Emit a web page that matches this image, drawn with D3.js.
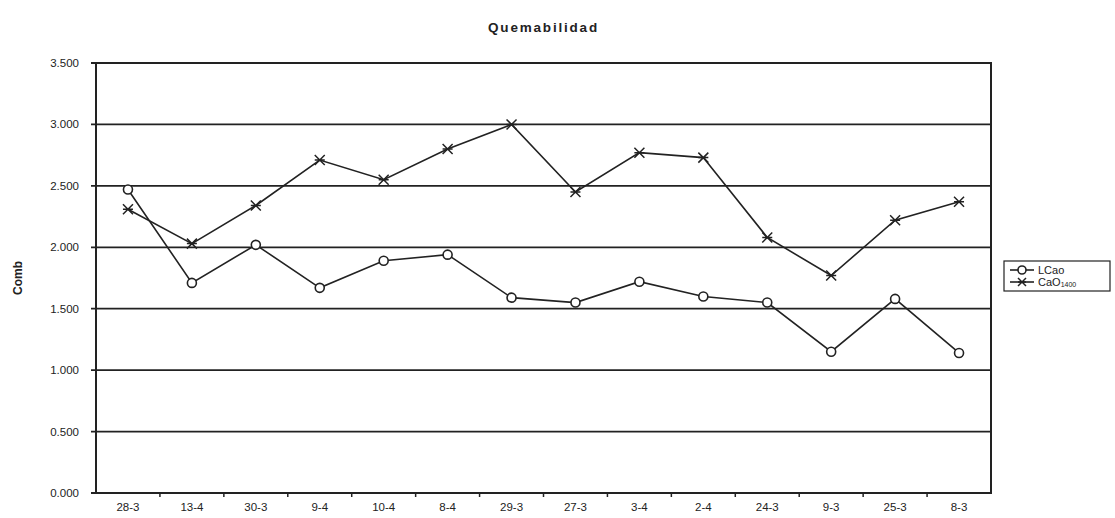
<!DOCTYPE html>
<html>
<head>
<meta charset="utf-8">
<script src="https://cdn.jsdelivr.net/npm/d3@7"></script>
<style>
  body { margin: 0; background: #fff; }
  text { font-family: "Liberation Sans", Arial, sans-serif; fill: #222; }
</style>
</head>
<body>
<div id="chart"></div>
<script>
// data
var categories = ["28-3", "13-4", "30-3", "9-4", "10-4", "8-4", "29-3", "27-3", "3-4", "2-4", "24-3", "9-3", "25-3", "8-3"];
var lcao = [2.47, 1.71, 2.02, 1.67, 1.89, 1.94, 1.59, 1.55, 1.72, 1.60, 1.55, 1.15, 1.58, 1.14];
var cao1400 = [2.31, 2.03, 2.34, 2.71, 2.55, 2.80, 3.00, 2.45, 2.77, 2.73, 2.08, 1.77, 2.22, 2.37];
var yTicks = [0, 0.5, 1, 1.5, 2, 2.5, 3, 3.5];

var width = 1115, height = 518;
var margin = {top: 63, right: 124, bottom: 25, left: 96};
var w = width - margin.left - margin.right;
var h = height - margin.top - margin.bottom;

var svg = d3.select("#chart").append("svg")
  .attr("width", width)
  .attr("height", height);

var g = svg.append("g")
  .attr("transform", "translate(" + margin.left + "," + margin.top + ")");

var x = d3.scaleBand().domain(categories).range([0, w]);
var y = d3.scaleLinear().domain([0, 3.5]).range([h, 0]);

// horizontal gridlines
g.append("g").selectAll("line")
  .data(yTicks)
  .enter().append("line")
  .attr("x1", -5).attr("x2", w)
  .attr("y1", d => y(d)).attr("y2", d => y(d))
  .attr("stroke", "#222")
  .attr("stroke-width", 1.8);

// y tick labels
g.append("g").selectAll("text")
  .data(yTicks)
  .enter().append("text")
  .attr("x", -17)
  .attr("y", d => y(d))
  .attr("dy", "0.35em")
  .attr("text-anchor", "end")
  .attr("font-size", 11.5)
  .attr("fill", "#333")
  .text(d => d3.format(".3f")(d));

// frame
g.append("rect")
  .attr("width", w).attr("height", h)
  .attr("fill", "none")
  .attr("stroke", "#222")
  .attr("stroke-width", 2);

// bottom axis: ticks between categories, labels centered
var xAxis = d3.axisBottom(x).tickSize(0).tickPadding(10);
var gx = g.append("g").attr("transform", "translate(0," + h + ")").call(xAxis);
gx.select(".domain").remove();
gx.selectAll("text").attr("font-size", 11.5).attr("fill", "#333")
  .style("font-family", "Liberation Sans, Arial, sans-serif");
g.append("g").selectAll("line")
  .data(categories.slice(1))
  .enter().append("line")
  .attr("x1", d => x(d)).attr("x2", d => x(d))
  .attr("y1", h).attr("y2", h + 4)
  .attr("stroke", "#222").attr("stroke-width", 1.5);

// title
svg.append("text")
  .attr("x", margin.left + w / 2)
  .attr("y", 32)
  .attr("text-anchor", "middle")
  .attr("font-size", 13.5)
  .attr("font-weight", "bold")
  .attr("letter-spacing", "1.8px")
  .text("Quemabilidad");

// y axis title
svg.append("text")
  .attr("transform", "translate(22," + (margin.top + h / 2) + ") rotate(-90)")
  .attr("text-anchor", "middle")
  .attr("font-size", 12)
  .attr("font-weight", "bold")
  .text("Comb");

var cx = d => x(d) + x.bandwidth() / 2;

var line = d3.line()
  .x((d, i) => cx(categories[i]))
  .y(d => y(d));

function drawX(sel, px, py, s) {
  sel.append("path")
    .attr("d", "M" + (px - s) + "," + (py - s) + "L" + (px + s) + "," + (py + s) +
               "M" + (px - s) + "," + (py + s) + "L" + (px + s) + "," + (py - s) +
               "M" + (px - s) + "," + py + "L" + (px + s) + "," + py)
    .attr("stroke", "#222").attr("stroke-width", 1.5).attr("fill", "none");
}

// CaO1400 series
g.append("path").datum(cao1400)
  .attr("d", line)
  .attr("fill", "none").attr("stroke", "#222").attr("stroke-width", 1.6);
var xm = g.append("g");
cao1400.forEach(function(v, i) { drawX(xm, cx(categories[i]), y(v), 5); });

// LCao series
g.append("path").datum(lcao)
  .attr("d", line)
  .attr("fill", "none").attr("stroke", "#222").attr("stroke-width", 1.6);
g.append("g").selectAll("circle")
  .data(lcao)
  .enter().append("circle")
  .attr("cx", (d, i) => cx(categories[i]))
  .attr("cy", d => y(d))
  .attr("r", 4.5)
  .attr("fill", "#fff")
  .attr("stroke", "#222").attr("stroke-width", 1.6);

// legend
var lg = svg.append("g").attr("transform", "translate(1004,261)");
lg.append("rect")
  .attr("width", 106).attr("height", 30)
  .attr("fill", "#fff").attr("stroke", "#222").attr("stroke-width", 1.2);
lg.append("line").attr("x1", 6).attr("x2", 30).attr("y1", 9).attr("y2", 9)
  .attr("stroke", "#222").attr("stroke-width", 1.6);
lg.append("circle").attr("cx", 18).attr("cy", 9).attr("r", 4)
  .attr("fill", "#fff").attr("stroke", "#222").attr("stroke-width", 1.6);
lg.append("text").attr("x", 34).attr("y", 9).attr("dy", "0.35em")
  .attr("font-size", 11).text("LCao");
lg.append("line").attr("x1", 6).attr("x2", 30).attr("y1", 21).attr("y2", 21)
  .attr("stroke", "#222").attr("stroke-width", 1.6);
drawX(lg, 18, 21, 4);
var t2 = lg.append("text").attr("x", 34).attr("y", 21).attr("dy", "0.35em")
  .attr("font-size", 11);
t2.append("tspan").text("CaO");
t2.append("tspan").attr("font-size", 7).attr("dy", "1").text("1400");
</script>
</body>
</html>
